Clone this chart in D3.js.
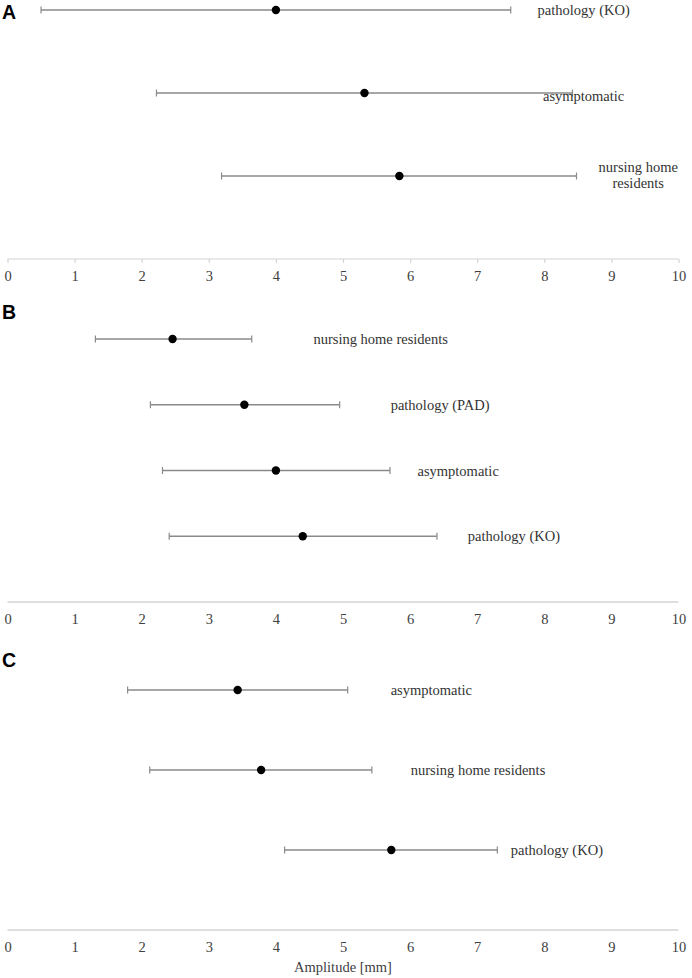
<!DOCTYPE html>
<html>
<head>
<meta charset="utf-8">
<script src="https://cdn.jsdelivr.net/npm/d3@7"></script>
<style>
  html, body { margin: 0; padding: 0; background: #fff; }
  svg { display: block; }
</style>
</head>
<body>
<svg id="chart" width="692" height="978"></svg>
<script>
// ---- data ----
const ticks = [0, 1, 2, 3, 4, 5, 6, 7, 8, 9, 10];
const xTitle = "Amplitude [mm]";

const catsA  = ["pathology (KO)", "asymptomatic", "nursing home residents"];
const meanA  = [4.00, 5.32, 5.84];
const lowA   = [0.50, 2.22, 3.19];
const highA  = [7.50, 8.42, 8.48];

const catsB  = ["nursing home residents", "pathology (PAD)", "asymptomatic", "pathology (KO)"];
const meanB  = [2.46, 3.53, 4.00, 4.40];
const lowB   = [1.31, 2.13, 2.31, 2.41];
const highB  = [3.64, 4.95, 5.70, 6.40];

const catsC  = ["asymptomatic", "nursing home residents", "pathology (KO)"];
const meanC  = [3.43, 3.78, 5.72];
const lowC   = [1.79, 2.12, 4.13];
const highC  = [5.07, 5.43, 7.30];

// ---- layout (positions/styles) ----
const layout = [
  { letter: "A", cats: catsA, mean: meanA, low: lowA, high: highA,
    axisY: 259, firstY: 10, letterY: 19, tickMarks: true,
    labelX: [7.90, 7.98, 9.40], labelAnchor: ["start", "start", "middle"],
    wrap: [false, false, true], labelDy: [0, 3, 0] },
  { letter: "B", cats: catsB, mean: meanB, low: lowB, high: highB,
    axisY: 602, firstY: 339, letterY: 319, tickMarks: false,
    labelX: [4.56, 5.71, 6.11, 6.86], labelAnchor: ["start","start","start","start"],
    wrap: [false, false, false, false], labelDy: [0, 0, 0, 0] },
  { letter: "C", cats: catsC, mean: meanC, low: lowC, high: highC,
    axisY: 930, firstY: 690, letterY: 667, tickMarks: false,
    labelX: [5.71, 6.01, 7.50], labelAnchor: ["start","start","start"],
    wrap: [false, false, false], labelDy: [0, 0, 0] }
];

const svg = d3.select("#chart");
const x = d3.scaleLinear().domain([0, 10]).range([7.5, 678.5]);

const serif = "'Liberation Serif', 'Times New Roman', serif";
const barColor = "#8a8a8a";
const axisColor = "#d4d4d4";

layout.forEach(p => {
  const n = p.cats.length;
  const y = d3.scaleLinear().domain([0, n]).range([p.axisY, p.firstY]);
  const g = svg.append("g");

  // panel letter
  g.append("text")
    .attr("x", 2).attr("y", p.letterY)
    .style("font-family", "'Liberation Sans', Arial, sans-serif")
    .style("font-weight", "bold").style("font-size", "19.5px")
    .attr("fill", "#000").text(p.letter);

  // axis
  const axis = d3.axisBottom(x).tickValues(ticks).tickFormat(d3.format("d"))
    .tickSize(p.tickMarks ? 4 : 0).tickPadding(p.tickMarks ? 8 : 12);
  const ag = g.append("g").attr("transform", `translate(0,${p.axisY})`).call(axis)
    .attr("font-family", serif).attr("font-size", 14.5);
  ag.select(".domain").attr("stroke", axisColor).attr("stroke-width", p.tickMarks ? 1.2 : 1.6)
    .attr("d", `M${x(0)},0H${x(10)}`);
  ag.selectAll(".tick line").attr("stroke", axisColor).attr("stroke-width", 1.2);
  ag.selectAll(".tick text")
    .style("font-family", serif).style("font-size", "14.5px")
    .attr("fill", "#404040");

  const rows = p.cats.map((c, i) => ({ c, i, m: p.mean[i], lo: p.low[i], hi: p.high[i], yv: n - i }));

  // error bars
  g.selectAll(".eb").data(rows).enter().append("line")
    .attr("x1", d => x(d.lo)).attr("x2", d => x(d.hi))
    .attr("y1", d => y(d.yv)).attr("y2", d => y(d.yv))
    .attr("stroke", barColor).attr("stroke-width", 1.3);
  ["lo", "hi"].forEach(k => {
    g.selectAll(".cap" + k).data(rows).enter().append("line")
      .attr("x1", d => x(d[k])).attr("x2", d => x(d[k]))
      .attr("y1", d => y(d.yv) - 3.5).attr("y2", d => y(d.yv) + 3.5)
      .attr("stroke", barColor).attr("stroke-width", 1.2);
  });

  // points
  g.selectAll(".pt").data(rows).enter().append("circle")
    .attr("cx", d => x(d.m)).attr("cy", d => y(d.yv)).attr("r", 4.2)
    .attr("fill", "#000");

  // labels
  rows.forEach(d => {
    const t = g.append("text")
      .style("font-family", serif).style("font-size", "14.5px").attr("fill", "#333")
      .attr("text-anchor", p.labelAnchor[d.i])
      .attr("x", x(p.labelX[d.i]));
    if (p.wrap[d.i]) {
      const words = d.c.split(" ");
      const l1 = words.slice(0, 2).join(" "), l2 = words.slice(2).join(" ");
      t.attr("y", y(d.yv));
      t.append("tspan").attr("x", x(p.labelX[d.i])).attr("dy", "-0.25em").text(l1);
      t.append("tspan").attr("x", x(p.labelX[d.i])).attr("dy", "1.1em").text(l2);
    } else {
      t.attr("y", y(d.yv) + p.labelDy[d.i]).attr("dy", "0.35em").text(d.c);
    }
  });
});

// x-axis title
svg.append("text")
  .attr("x", x(5)).attr("y", 972)
  .attr("text-anchor", "middle")
  .style("font-family", serif).style("font-size", "14.5px").attr("fill", "#404040")
  .text(xTitle);
</script>
</body>
</html>
